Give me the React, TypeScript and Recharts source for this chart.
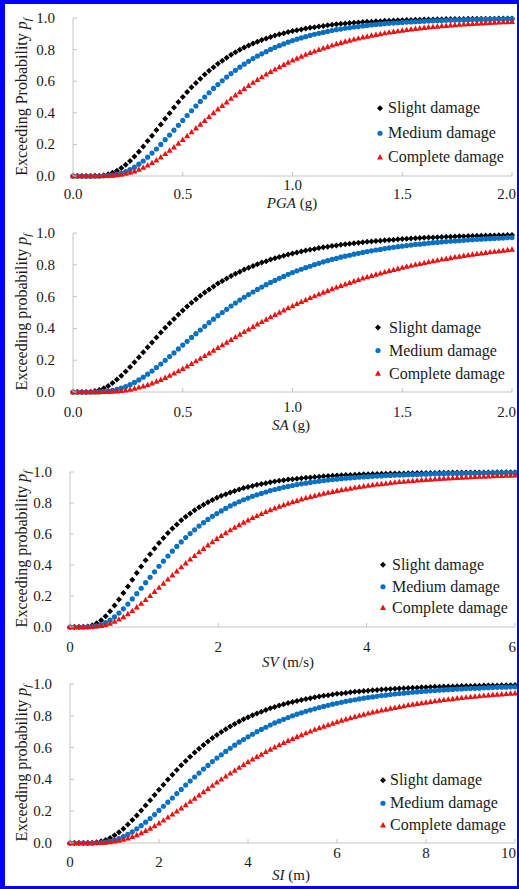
import React from 'react';
import { LineChart, Line, XAxis, YAxis, Legend } from 'recharts';

const SERIF = '"Liberation Serif", "Times New Roman", serif';
const AXIS_GREY = '#c4c4c4';
const TEXT = '#1a1a1a';
const BLACK = '#000000';
const BLUE = '#0a70c2';
const RED = '#ee1111';

// PGA (g), sampled every 0.02 g
const pgaSlight = [
  0, 0, 0, 0, 0, 0.001, 0.002, 0.005, 0.011, 0.021, 0.034,
  0.050, 0.071, 0.095, 0.123, 0.154, 0.187, 0.221, 0.255, 0.291, 0.326,
  0.363, 0.397, 0.433, 0.468, 0.5, 0.532, 0.561, 0.589, 0.616, 0.642,
  0.666, 0.689, 0.711, 0.730, 0.749, 0.767, 0.783, 0.799, 0.813, 0.826,
  0.839, 0.850, 0.861, 0.871, 0.880, 0.889, 0.897, 0.904, 0.911, 0.917,
  0.923, 0.928, 0.933, 0.938, 0.942, 0.946, 0.950, 0.954, 0.957, 0.960,
  0.963, 0.965, 0.968, 0.970, 0.972, 0.974, 0.976, 0.977, 0.979, 0.980,
  0.982, 0.983, 0.984, 0.985, 0.986, 0.987, 0.988, 0.989, 0.989, 0.990,
  0.991, 0.991, 0.992, 0.992, 0.993, 0.993, 0.994, 0.994, 0.994, 0.995,
  0.995, 0.995, 0.996, 0.996, 0.996, 0.996, 0.997, 0.997, 0.997, 0.997,
];
const pgaMedium = [
  0, 0, 0, 0, 0, 0, 0, 0.001, 0.003, 0.006, 0.011,
  0.018, 0.028, 0.041, 0.056, 0.075, 0.095, 0.119, 0.145, 0.171, 0.200,
  0.230, 0.259, 0.290, 0.321, 0.352, 0.383, 0.413, 0.443, 0.472, 0.5,
  0.527, 0.554, 0.579, 0.603, 0.626, 0.648, 0.669, 0.689, 0.708, 0.726,
  0.743, 0.759, 0.773, 0.787, 0.801, 0.814, 0.825, 0.836, 0.847, 0.857,
  0.866, 0.874, 0.882, 0.890, 0.897, 0.903, 0.909, 0.915, 0.921, 0.926,
  0.930, 0.935, 0.939, 0.943, 0.946, 0.950, 0.953, 0.956, 0.959, 0.961,
  0.964, 0.966, 0.968, 0.970, 0.972, 0.974, 0.975, 0.977, 0.978, 0.980,
  0.981, 0.982, 0.983, 0.984, 0.985, 0.986, 0.987, 0.988, 0.988, 0.989,
  0.990, 0.990, 0.991, 0.991, 0.992, 0.992, 0.993, 0.993, 0.994, 0.994,
];
const pgaComplete = [
  0, 0, 0, 0, 0, 0, 0, 0.001, 0.001, 0.003, 0.006,
  0.009, 0.015, 0.022, 0.030, 0.041, 0.053, 0.067, 0.083, 0.100, 0.119,
  0.140, 0.161, 0.182, 0.206, 0.229, 0.253, 0.278, 0.302, 0.326, 0.350,
  0.374, 0.399, 0.422, 0.445, 0.467, 0.490, 0.511, 0.532, 0.552, 0.571,
  0.591, 0.609, 0.626, 0.643, 0.660, 0.675, 0.690, 0.704, 0.718, 0.732,
  0.744, 0.756, 0.768, 0.779, 0.789, 0.799, 0.809, 0.818, 0.827, 0.835,
  0.843, 0.851, 0.858, 0.865, 0.871, 0.878, 0.883, 0.889, 0.894, 0.899,
  0.904, 0.909, 0.913, 0.917, 0.921, 0.925, 0.929, 0.932, 0.935, 0.938,
  0.941, 0.944, 0.946, 0.949, 0.951, 0.954, 0.956, 0.958, 0.960, 0.962,
  0.963, 0.965, 0.967, 0.968, 0.970, 0.971, 0.972, 0.974, 0.975, 0.976,
];

// SA (g), sampled every 0.02 g
const saSlight = [
  0, 0, 0, 0, 0.002, 0.006, 0.013, 0.023, 0.038, 0.056, 0.078,
  0.102, 0.129, 0.157, 0.187, 0.218, 0.250, 0.281, 0.312, 0.343, 0.374,
  0.404, 0.432, 0.459, 0.487, 0.513, 0.537, 0.561, 0.584, 0.605, 0.626,
  0.645, 0.664, 0.682, 0.698, 0.714, 0.729, 0.743, 0.757, 0.770, 0.782,
  0.793, 0.804, 0.814, 0.823, 0.833, 0.841, 0.849, 0.857, 0.864, 0.871,
  0.878, 0.884, 0.890, 0.895, 0.900, 0.905, 0.910, 0.914, 0.918, 0.922,
  0.926, 0.930, 0.933, 0.936, 0.939, 0.942, 0.945, 0.947, 0.950, 0.952,
  0.954, 0.956, 0.958, 0.960, 0.962, 0.964, 0.965, 0.967, 0.968, 0.970,
  0.971, 0.972, 0.974, 0.975, 0.976, 0.977, 0.978, 0.979, 0.980, 0.981,
  0.981, 0.982, 0.983, 0.984, 0.984, 0.985, 0.986, 0.986, 0.987, 0.987,
];
const saMedium = [
  0, 0, 0, 0, 0, 0, 0.001, 0.003, 0.006, 0.010, 0.016,
  0.024, 0.034, 0.046, 0.060, 0.076, 0.093, 0.112, 0.132, 0.154, 0.176,
  0.199, 0.223, 0.246, 0.271, 0.295, 0.319, 0.343, 0.367, 0.390, 0.413,
  0.436, 0.458, 0.480, 0.5, 0.520, 0.541, 0.559, 0.578, 0.596, 0.613,
  0.629, 0.645, 0.660, 0.675, 0.689, 0.702, 0.715, 0.727, 0.740, 0.751,
  0.762, 0.772, 0.782, 0.791, 0.801, 0.809, 0.818, 0.826, 0.834, 0.840,
  0.848, 0.854, 0.860, 0.867, 0.872, 0.878, 0.883, 0.888, 0.893, 0.897,
  0.902, 0.906, 0.910, 0.914, 0.917, 0.921, 0.924, 0.928, 0.930, 0.933,
  0.936, 0.939, 0.941, 0.944, 0.946, 0.948, 0.950, 0.952, 0.954, 0.956,
  0.958, 0.960, 0.961, 0.963, 0.964, 0.966, 0.967, 0.968, 0.970, 0.971,
];
const saComplete = [
  0, 0, 0, 0, 0, 0, 0, 0.001, 0.002, 0.003, 0.005,
  0.008, 0.011, 0.016, 0.022, 0.029, 0.036, 0.045, 0.055, 0.066, 0.077,
  0.090, 0.103, 0.117, 0.131, 0.146, 0.162, 0.178, 0.194, 0.210, 0.227,
  0.244, 0.261, 0.278, 0.295, 0.311, 0.329, 0.345, 0.362, 0.378, 0.394,
  0.410, 0.426, 0.441, 0.456, 0.471, 0.486, 0.5, 0.514, 0.528, 0.541,
  0.554, 0.567, 0.579, 0.592, 0.603, 0.615, 0.626, 0.637, 0.648, 0.658,
  0.668, 0.678, 0.687, 0.697, 0.705, 0.715, 0.723, 0.731, 0.739, 0.746,
  0.754, 0.762, 0.768, 0.775, 0.782, 0.789, 0.795, 0.801, 0.806, 0.812,
  0.818, 0.823, 0.828, 0.834, 0.838, 0.843, 0.848, 0.852, 0.857, 0.861,
  0.865, 0.869, 0.872, 0.876, 0.880, 0.883, 0.886, 0.890, 0.893, 0.896,
];

// SV (m/s), sampled every 0.06 m/s
const svSlight = [
  0, 0, 0, 0.001, 0.004, 0.011, 0.024, 0.044, 0.070, 0.102, 0.138,
  0.177, 0.219, 0.262, 0.305, 0.348, 0.390, 0.430, 0.469, 0.506, 0.542,
  0.575, 0.606, 0.635, 0.662, 0.688, 0.711, 0.733, 0.753, 0.772, 0.789,
  0.805, 0.820, 0.834, 0.846, 0.857, 0.868, 0.878, 0.887, 0.896, 0.903,
  0.910, 0.917, 0.923, 0.928, 0.934, 0.938, 0.943, 0.947, 0.951, 0.954,
  0.957, 0.960, 0.963, 0.965, 0.968, 0.970, 0.972, 0.974, 0.976, 0.977,
  0.979, 0.980, 0.981, 0.983, 0.984, 0.985, 0.986, 0.987, 0.987, 0.988,
  0.989, 0.990, 0.990, 0.991, 0.991, 0.992, 0.992, 0.993, 0.993, 0.994,
  0.994, 0.994, 0.995, 0.995, 0.995, 0.996, 0.996, 0.996, 0.996, 0.997,
  0.997, 0.997, 0.997, 0.997, 0.997, 0.998, 0.998, 0.998, 0.998, 0.998,
];
const svMedium = [
  0, 0, 0, 0, 0.001, 0.003, 0.008, 0.016, 0.028, 0.044, 0.065,
  0.090, 0.117, 0.148, 0.181, 0.215, 0.250, 0.286, 0.321, 0.356, 0.392,
  0.425, 0.458, 0.489, 0.520, 0.549, 0.577, 0.603, 0.627, 0.651, 0.673,
  0.694, 0.714, 0.732, 0.749, 0.765, 0.781, 0.795, 0.808, 0.821, 0.832,
  0.843, 0.853, 0.862, 0.871, 0.880, 0.887, 0.894, 0.901, 0.907, 0.913,
  0.919, 0.924, 0.928, 0.933, 0.937, 0.941, 0.945, 0.948, 0.951, 0.954,
  0.957, 0.960, 0.962, 0.964, 0.966, 0.968, 0.970, 0.972, 0.974, 0.975,
  0.977, 0.978, 0.979, 0.980, 0.981, 0.983, 0.983, 0.984, 0.985, 0.986,
  0.987, 0.988, 0.988, 0.989, 0.990, 0.990, 0.991, 0.991, 0.992, 0.992,
  0.992, 0.993, 0.993, 0.994, 0.994, 0.994, 0.995, 0.995, 0.995, 0.995,
];
const svComplete = [
  0, 0, 0, 0, 0, 0.001, 0.004, 0.008, 0.014, 0.023, 0.035,
  0.049, 0.065, 0.084, 0.104, 0.127, 0.151, 0.175, 0.201, 0.227, 0.254,
  0.281, 0.307, 0.334, 0.360, 0.386, 0.411, 0.436, 0.459, 0.483, 0.505,
  0.527, 0.548, 0.569, 0.588, 0.606, 0.625, 0.642, 0.658, 0.674, 0.689,
  0.704, 0.717, 0.730, 0.743, 0.755, 0.766, 0.777, 0.787, 0.797, 0.806,
  0.815, 0.824, 0.832, 0.840, 0.847, 0.854, 0.861, 0.867, 0.873, 0.879,
  0.884, 0.889, 0.894, 0.899, 0.904, 0.908, 0.912, 0.916, 0.920, 0.923,
  0.926, 0.930, 0.933, 0.936, 0.938, 0.941, 0.943, 0.946, 0.948, 0.950,
  0.952, 0.954, 0.956, 0.958, 0.960, 0.961, 0.963, 0.965, 0.966, 0.967,
  0.969, 0.970, 0.971, 0.972, 0.974, 0.975, 0.976, 0.977, 0.977, 0.978,
];

// SI (m), sampled every 0.1 m
const siSlight = [
  0, 0, 0, 0, 0, 0.002, 0.005, 0.011, 0.019, 0.032, 0.048,
  0.067, 0.090, 0.116, 0.144, 0.173, 0.205, 0.236, 0.269, 0.302, 0.335,
  0.367, 0.399, 0.429, 0.459, 0.489, 0.516, 0.543, 0.569, 0.593, 0.616,
  0.639, 0.660, 0.680, 0.698, 0.716, 0.733, 0.749, 0.764, 0.778, 0.791,
  0.804, 0.815, 0.826, 0.836, 0.847, 0.856, 0.864, 0.872, 0.880, 0.887,
  0.893, 0.900, 0.905, 0.911, 0.916, 0.921, 0.926, 0.930, 0.934, 0.938,
  0.941, 0.944, 0.948, 0.951, 0.953, 0.956, 0.958, 0.961, 0.963, 0.965,
  0.967, 0.969, 0.970, 0.972, 0.973, 0.975, 0.976, 0.977, 0.979, 0.980,
  0.981, 0.982, 0.983, 0.984, 0.984, 0.985, 0.986, 0.987, 0.987, 0.988,
  0.989, 0.989, 0.990, 0.990, 0.991, 0.991, 0.992, 0.992, 0.992, 0.993,
];
const siMedium = [
  0, 0, 0, 0, 0, 0, 0.001, 0.003, 0.006, 0.011, 0.019,
  0.028, 0.040, 0.054, 0.070, 0.089, 0.109, 0.131, 0.154, 0.179, 0.205,
  0.231, 0.257, 0.283, 0.311, 0.337, 0.364, 0.390, 0.415, 0.440, 0.465,
  0.488, 0.512, 0.534, 0.555, 0.576, 0.596, 0.615, 0.634, 0.651, 0.668,
  0.684, 0.700, 0.714, 0.728, 0.742, 0.755, 0.766, 0.778, 0.789, 0.800,
  0.810, 0.819, 0.828, 0.836, 0.844, 0.852, 0.859, 0.866, 0.873, 0.879,
  0.885, 0.891, 0.896, 0.901, 0.906, 0.911, 0.915, 0.919, 0.923, 0.927,
  0.930, 0.934, 0.937, 0.940, 0.942, 0.945, 0.948, 0.950, 0.953, 0.955,
  0.957, 0.959, 0.961, 0.963, 0.964, 0.966, 0.968, 0.969, 0.971, 0.972,
  0.973, 0.974, 0.976, 0.977, 0.978, 0.979, 0.980, 0.980, 0.981, 0.982,
];
const siComplete = [
  0, 0, 0, 0, 0, 0, 0.001, 0.002, 0.003, 0.006, 0.010,
  0.015, 0.022, 0.030, 0.039, 0.050, 0.063, 0.077, 0.091, 0.107, 0.124,
  0.142, 0.161, 0.180, 0.199, 0.219, 0.239, 0.260, 0.280, 0.300, 0.321,
  0.341, 0.361, 0.381, 0.400, 0.419, 0.438, 0.456, 0.474, 0.492, 0.509,
  0.526, 0.542, 0.557, 0.573, 0.588, 0.602, 0.616, 0.630, 0.643, 0.655,
  0.668, 0.679, 0.691, 0.702, 0.713, 0.723, 0.733, 0.742, 0.752, 0.761,
  0.770, 0.778, 0.786, 0.794, 0.801, 0.808, 0.815, 0.822, 0.828, 0.834,
  0.840, 0.846, 0.851, 0.856, 0.861, 0.867, 0.871, 0.876, 0.880, 0.884,
  0.888, 0.892, 0.896, 0.900, 0.903, 0.906, 0.910, 0.913, 0.916, 0.919,
  0.921, 0.924, 0.927, 0.929, 0.932, 0.934, 0.936, 0.938, 0.940, 0.942,
];

const probTicks = [0, 0.2, 0.4, 0.6, 0.8, 1];
const pgaTicks = [0, 0.5, 1, 1.5, 2];
const saTicks = [0, 0.5, 1, 1.5, 2];
const svTicks = [0, 2, 4, 6];
const siTicks = [0, 2, 4, 6, 8, 10];
const legendLabels = ['Slight damage', 'Medium damage', 'Complete damage'];

function buildRows(step: number, slight: number[], medium: number[], complete: number[]) {
  return slight.map((v, i) => ({
    x: Math.round(i * step * 1000) / 1000,
    slight: v,
    medium: medium[i],
    complete: complete[i],
  }));
}

function marker(kind: string, cx: number, cy: number, key: any) {
  if (cx == null || cy == null || isNaN(cx) || isNaN(cy)) return <g key={key} />;
  if (kind === 'diamond') {
    const r = 3;
    return <path key={key} d={`M${cx},${cy - r}L${cx + r},${cy}L${cx},${cy + r}L${cx - r},${cy}Z`} fill={BLACK} />;
  }
  if (kind === 'circle') {
    return <circle key={key} cx={cx} cy={cy} r={2.6} fill={BLUE} />;
  }
  return <path key={key} d={`M${cx},${cy - 3.2}L${cx + 3},${cy + 2.2}L${cx - 3},${cy + 2.2}Z`} fill={RED} />;
}

const kinds = ['diamond', 'circle', 'triangle'];

function XTick(props: any) {
  const { x, y, payload, fmt, drop, raised, lift, last } = props;
  const v = payload.value;
  const up = raised.includes(v) ? lift : 0;
  // the last label sits at the frame edge: keep it inside the picture
  const atEdge = v === last;
  return (
    <g>
      <line x1={x} x2={x} y1={y} y2={y - 4} stroke={AXIS_GREY} />
      <text
        x={atEdge ? 516 : x}
        y={y + drop - up + 5}
        textAnchor={atEdge ? 'end' : 'middle'}
        fontFamily={SERIF}
        fontSize={15}
        fill={TEXT}
      >
        {fmt(v)}
      </text>
    </g>
  );
}

function YTick(props: any) {
  const { x, y, payload } = props;
  return (
    <g>
      <line x1={x} x2={x + 4} y1={y} y2={y} stroke={AXIS_GREY} />
      <text x={x - 18} y={y + 5} textAnchor="end" fontFamily={SERIF} fontSize={15} fill={TEXT}>
        {payload.value.toFixed(1)}
      </text>
    </g>
  );
}

function LegendBox({ rowH, gap }: { rowH: number; gap: number }) {
  return (
    <div style={{ position: 'relative', width: 150, height: rowH * 3, fontFamily: SERIF, fontSize: 16, color: TEXT }}>
      {legendLabels.map((label, i) => (
        <div
          key={label}
          style={{ position: 'absolute', left: 0, top: i * rowH, height: rowH, display: 'flex', alignItems: 'center', whiteSpace: 'nowrap' }}
        >
          <svg width={gap} height={rowH} style={{ display: 'block', flex: 'none' }}>
            {marker(kinds[i], 7, rowH / 2, i)}
          </svg>
          <span style={{ lineHeight: `${rowH}px` }}>{label}</span>
        </div>
      ))}
    </div>
  );
}

interface PanelProps {
  top: number;
  height: number;
  plotTop: number;
  plotBottom: number;
  plotLeft: number;
  plotRight: number;
  data: any[];
  xMax: number;
  xTicks: number[];
  fmt: (v: number) => string;
  drop: number;
  raised: number[];
  lift: number;
  legend: { left: number; top: number; rowH: number; gap: number };
}

function Panel(p: PanelProps) {
  return (
    <div style={{ position: 'absolute', left: 0, top: p.top, width: 519, height: p.height }}>
      <LineChart
        width={519}
        height={p.height}
        data={p.data}
        margin={{ top: p.plotTop, right: 519 - p.plotRight, bottom: 0, left: 0 }}
      >
        <XAxis
          type="number"
          dataKey="x"
          domain={[0, p.xMax]}
          ticks={p.xTicks}
          interval={0}
          height={p.height - p.plotBottom}
          axisLine={{ stroke: AXIS_GREY }}
          tickLine={false}
          tickSize={0}
          tickMargin={0}
          tick={(t: any) => (
            <XTick {...t} fmt={p.fmt} drop={p.drop} raised={p.raised} lift={p.lift} last={p.xMax} />
          )}
        />
        <YAxis
          type="number"
          domain={[0, 1]}
          ticks={probTicks}
          interval={0}
          width={p.plotLeft}
          axisLine={{ stroke: AXIS_GREY }}
          tickLine={false}
          tickSize={0}
          tickMargin={0}
          tick={(t: any) => <YTick {...t} />}
        />
        <Line dataKey="slight" stroke="none" isAnimationActive={false} activeDot={false}
          dot={(d: any) => marker('diamond', d.cx, d.cy, `s-${d.index}`)} />
        <Line dataKey="medium" stroke="none" isAnimationActive={false} activeDot={false}
          dot={(d: any) => marker('circle', d.cx, d.cy, `m-${d.index}`)} />
        <Line dataKey="complete" stroke="none" isAnimationActive={false} activeDot={false}
          dot={(d: any) => marker('triangle', d.cx, d.cy, `c-${d.index}`)} />
        <Legend
          layout="vertical"
          align="center"
          verticalAlign="middle"
          wrapperStyle={{ left: p.legend.left, top: p.legend.top, width: 160 }}
          content={() => <LegendBox rowH={p.legend.rowH} gap={p.legend.gap} />}
        />
      </LineChart>
    </div>
  );
}

function YTitle({ cy, word }: { cy: number; word: string }) {
  return (
    <text x={21} y={cy} dy="0.35em" transform={`rotate(-90 21 ${cy})`} textAnchor="middle" fontFamily={SERIF} fontSize={16} fill={TEXT}>
      {`Exceeding ${word} `}
      <tspan fontStyle="italic">p</tspan>
      <tspan fontStyle="italic" fontSize={11} dy={4}>f</tspan>
    </text>
  );
}

function XTitle({ cx, cy, name, unit }: { cx: number; cy: number; name: string; unit: string }) {
  return (
    <text x={cx} y={cy + 5} textAnchor="middle" fontFamily={SERIF} fontSize={15} fill={TEXT}>
      <tspan fontStyle="italic">{name}</tspan>
      {` (${unit})`}
    </text>
  );
}

const one = (v: number) => v.toFixed(1);
const plain = (v: number) => String(v);

export default function App() {
  const pgaData = buildRows(0.02, pgaSlight, pgaMedium, pgaComplete);
  const saData = buildRows(0.02, saSlight, saMedium, saComplete);
  const svData = buildRows(0.06, svSlight, svMedium, svComplete);
  const siData = buildRows(0.1, siSlight, siMedium, siComplete);

  return (
    <div style={{ position: 'absolute', left: 0, top: 0, width: 519, height: 889, background: '#fff', overflow: 'hidden' }}>
      <Panel top={0} height={220} plotTop={18} plotBottom={176} plotLeft={73} plotRight={512}
        data={pgaData} xMax={2} xTicks={pgaTicks} fmt={one} drop={18} raised={[1]} lift={9}
        legend={{ left: 373, top: 96, rowH: 24.5, gap: 15 }} />
      <Panel top={220} height={220} plotTop={13} plotBottom={172} plotLeft={73} plotRight={512}
        data={saData} xMax={2} xTicks={saTicks} fmt={one} drop={20} raised={[1]} lift={5}
        legend={{ left: 371, top: 95.5, rowH: 23, gap: 18 }} />
      <Panel top={440} height={225} plotTop={32} plotBottom={187} plotLeft={70} plotRight={515}
        data={svData} xMax={6} xTicks={svTicks} fmt={plain} drop={20} raised={[]} lift={0}
        legend={{ left: 376, top: 114, rowH: 21.5, gap: 16 }} />
      <Panel top={665} height={224} plotTop={19} plotBottom={178} plotLeft={70} plotRight={515}
        data={siData} xMax={10} xTicks={siTicks} fmt={plain} drop={19} raised={[6, 8, 10]} lift={9}
        legend={{ left: 376, top: 104, rowH: 22.5, gap: 14 }} />
      <svg width={519} height={889} style={{ position: 'absolute', left: 0, top: 0, pointerEvents: 'none' }}>
        <YTitle cy={97} word="Probability" />
        <YTitle cy={312} word="probability" />
        <YTitle cy={549} word="probability" />
        <YTitle cy={763} word="probability" />
        <XTitle cx={292} cy={203} name="PGA" unit="g" />
        <XTitle cx={291} cy={425} name="SA" unit="g" />
        <XTitle cx={288} cy={662} name="SV" unit="m/s" />
        <XTitle cx={291} cy={875} name="SI" unit="m" />
      </svg>
      <div
        style={{
          position: 'absolute', left: 0, top: 0, width: 519, height: 889, boxSizing: 'border-box',
          borderStyle: 'solid', borderColor: '#0000ff', borderWidth: '4px 2px 3px 5px', pointerEvents: 'none',
        }}
      />
    </div>
  );
}
